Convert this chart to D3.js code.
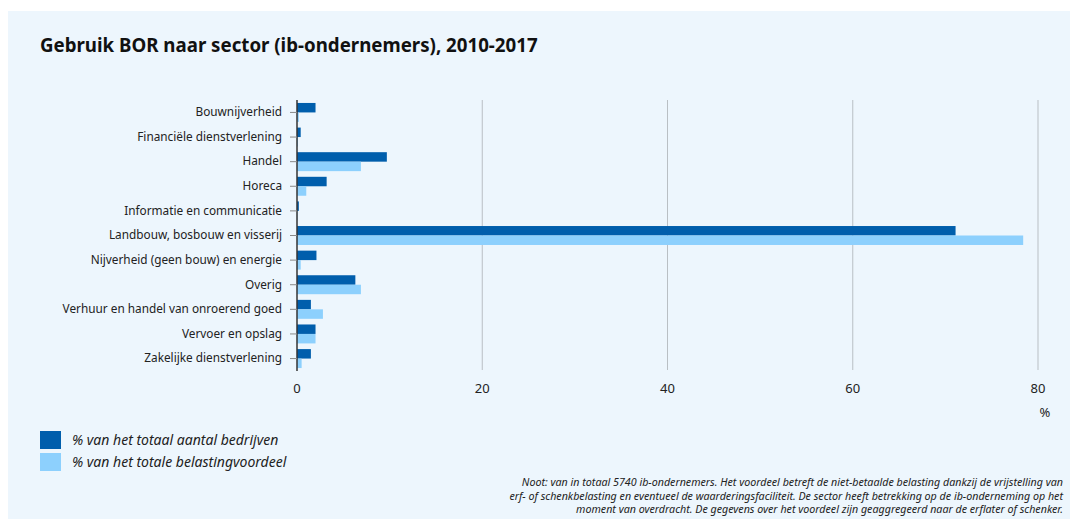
<!DOCTYPE html>
<html>
<head>
<meta charset="utf-8">
<script src="https://cdn.jsdelivr.net/npm/d3@7"></script>
<style>
  body { margin: 0; background: #fff; }
  svg { display: block; font-family: "Noto Sans", "Open Sans", sans-serif; }
</style>
</head>
<body>
<svg width="1070" height="519"></svg>
<script>
// sectors, top to bottom
var sectors = ["Bouwnijverheid", "Financiële dienstverlening", "Handel", "Horeca",
  "Informatie en communicatie", "Landbouw, bosbouw en visserij",
  "Nijverheid (geen bouw) en energie", "Overig", "Verhuur en handel van onroerend goed",
  "Vervoer en opslag", "Zakelijke dienstverlening"];
// % van het totaal aantal bedrijven
var pctBedrijven = [2.0, 0.4, 9.7, 3.2, 0.2, 71.1, 2.1, 6.3, 1.5, 2.0, 1.5];
// % van het totale belastingvoordeel
var pctVoordeel = [0.2, 0.1, 6.9, 1.0, 0.05, 78.4, 0.4, 6.9, 2.8, 2.0, 0.5];
var xTicks = [0, 20, 40, 60, 80];
var seriesNames = ["% van het totaal aantal bedrijven", "% van het totale belastingvoordeel"];
var colors = ["#005eac", "#8dd0fd"];
var noteLines = [
  "Noot: van in totaal 5740 ib-ondernemers. Het voordeel betreft de niet-betaalde belasting dankzij de vrijstelling van",
  "erf- of schenkbelasting en eventueel de waarderingsfaciliteit. De sector heeft betrekking op de ib-onderneming op het",
  "moment van overdracht. De gegevens over het voordeel zijn geaggregeerd naar de erflater of schenker."
];

var svg = d3.select("svg");

// light panel
svg.append("rect")
  .attr("x", 8).attr("y", 11).attr("width", 1062).attr("height", 508)
  .attr("fill", "#edf6fd");

svg.append("text")
  .attr("x", 40).attr("y", 52)
  .attr("font-size", 18.7).attr("font-weight", "bold").attr("fill", "#111")
  .text("Gebruik BOR naar sector (ib-ondernemers), 2010-2017");

var x = d3.scaleLinear().domain([0, 80]).range([297, 1038]);
var y = d3.scaleBand().domain(sectors).range([100.5, 370.5]).paddingInner(0.23).paddingOuter(0.1);
var sub = d3.scaleBand().domain([0, 1]).range([0, y.bandwidth()]);

// gridlines
svg.append("g").selectAll("line")
  .data(xTicks.slice(1))
  .join("line")
    .attr("x1", d => x(d)).attr("x2", d => x(d))
    .attr("y1", 100).attr("y2", 370)
    .attr("stroke", "#b9bfc4").attr("stroke-width", 1);

// bars
var rows = sectors.map((s, i) => ({ sector: s, vals: [pctBedrijven[i], pctVoordeel[i]] }));
var groups = svg.append("g").selectAll("g")
  .data(rows)
  .join("g")
    .attr("transform", d => "translate(0," + y(d.sector) + ")");

groups.selectAll("rect")
  .data(d => d.vals.map((v, k) => ({ v: v, k: k })))
  .join("rect")
    .attr("x", x(0))
    .attr("y", d => sub(d.k))
    .attr("width", d => x(d.v) - x(0))
    .attr("height", sub.bandwidth())
    .attr("fill", d => colors[d.k]);

// y axis
var yAxis = svg.append("g")
  .attr("transform", "translate(" + x(0) + ",0)")
  .call(d3.axisLeft(y).tickSize(7).tickPadding(8));
yAxis.select(".domain").attr("stroke", "#333").attr("stroke-width", 1.5)
  .attr("d", "M0,100V371");
yAxis.selectAll(".tick line").attr("stroke", "#888");
yAxis.selectAll(".tick text").attr("font-size", 11.8).attr("fill", "#222")
  .attr("font-family", "Noto Sans, sans-serif");

// x tick labels
svg.append("g").selectAll("text")
  .data(xTicks)
  .join("text")
    .attr("x", d => x(d)).attr("y", 393)
    .attr("text-anchor", "middle")
    .attr("font-size", 13).attr("fill", "#222")
    .text(d => d);

svg.append("text")
  .attr("x", 1045).attr("y", 417)
  .attr("text-anchor", "middle").attr("font-size", 13).attr("fill", "#222")
  .text("%");

// legend
var legend = svg.append("g").selectAll("g")
  .data(seriesNames)
  .join("g")
    .attr("transform", (d, i) => "translate(40," + (431 + i * 22) + ")");
legend.append("rect")
  .attr("width", 21).attr("height", 18)
  .attr("fill", (d, i) => colors[i]);
legend.append("text")
  .attr("x", 32).attr("y", 14)
  .attr("font-size", 14).attr("font-style", "italic").attr("fill", "#222")
  .text(d => d);

// note
svg.append("g").selectAll("text")
  .data(noteLines)
  .join("text")
    .attr("x", 1063).attr("y", (d, i) => 486 + i * 13.5)
    .attr("text-anchor", "end")
    .attr("font-size", 10.7).attr("font-style", "italic").attr("fill", "#222")
    .text(d => d);
</script>
</body>
</html>
